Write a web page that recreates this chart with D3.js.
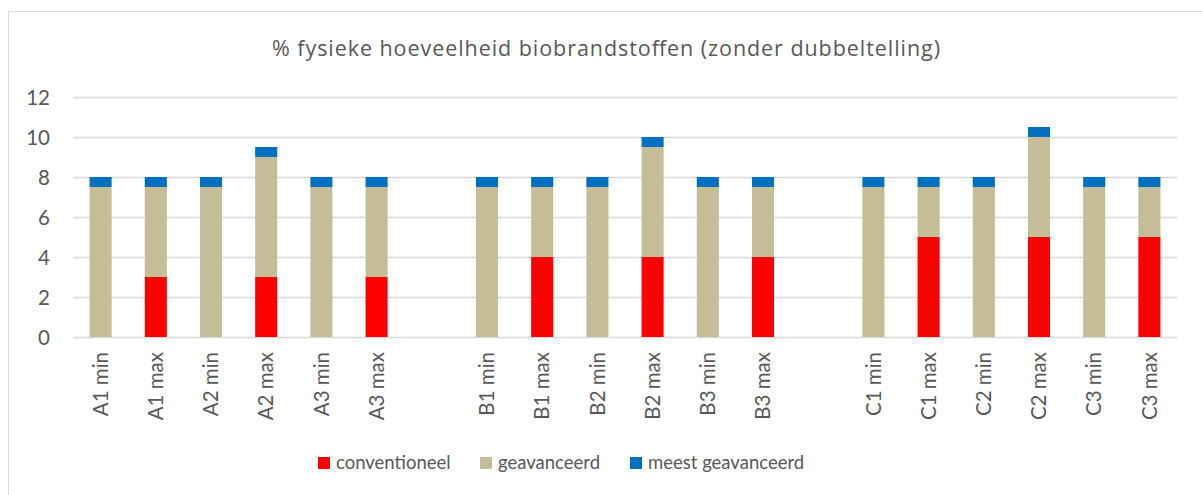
<!DOCTYPE html>
<html>
<head>
<meta charset="utf-8">
<script src="https://cdn.jsdelivr.net/npm/d3@7"></script>
<style>
  html, body { margin: 0; padding: 0; background: #fff; }
  svg { display: block; }
</style>
</head>
<body>
<svg id="chart" width="1202" height="495"></svg>
<script>
// ---- data ----
const categories = ["A1 min","A1 max","A2 min","A2 max","A3 min","A3 max","",
                    "B1 min","B1 max","B2 min","B2 max","B3 min","B3 max","",
                    "C1 min","C1 max","C2 min","C2 max","C3 min","C3 max"];
const conventioneel     = [0,3,0,3,0,3,null, 0,4,0,4,0,4,null, 0,5,0,5,0,5];
const geavanceerd       = [7.5,4.5,7.5,6,7.5,4.5,null, 7.5,3.5,7.5,5.5,7.5,3.5,null, 7.5,2.5,7.5,5,7.5,2.5];
const meestGeavanceerd  = [0.5,0.5,0.5,0.5,0.5,0.5,null, 0.5,0.5,0.5,0.5,0.5,0.5,null, 0.5,0.5,0.5,0.5,0.5,0.5];
const seriesNames = ["conventioneel","geavanceerd","meest geavanceerd"];
const seriesColors = ["#FF0000","#C4BD97","#0070C0"];
const yTicks = [0,2,4,6,8,10,12];
const title = "% fysieke hoeveelheid biobrandstoffen (zonder dubbeltelling)";

// ---- layout ----
const svg = d3.select("#chart");
const plot = {left: 73, right: 1177, top: 97, bottom: 337};
const textColor = "#595959";
const lato = "Lato, 'Open Sans', sans-serif";

svg.append("rect").attr("x", 8.5).attr("y", 11.5).attr("width", 1250).attr("height", 600)
  .attr("fill", "#fff").attr("stroke", "#D9D9D9").attr("stroke-width", 1);

svg.append("text").attr("x", 606).attr("y", 56).attr("text-anchor", "middle")
  .attr("textLength", 668).attr("lengthAdjust", "spacing")
  .style("font-family", "'Open Sans', sans-serif").style("fill", textColor)
  .style("font-size", "21.5px").text(title);

const idx = categories.map((d, i) => i);
const x = d3.scaleBand().domain(idx).range([plot.left, plot.right]).paddingInner(0.6).paddingOuter(0.3);
const y = d3.scaleLinear().domain([0, 12]).range([plot.bottom, plot.top]);

// gridlines
svg.append("g").selectAll("line").data(yTicks).join("line")
  .attr("x1", plot.left).attr("x2", plot.right)
  .attr("y1", d => Math.round(y(d)) + 0.5).attr("y2", d => Math.round(y(d)) + 0.5)
  .attr("stroke", "#D9D9D9").attr("stroke-width", 1.3);

// y axis labels
const yAxis = d3.axisLeft(y).tickValues(yTicks).tickSize(0).tickPadding(0);
const gy = svg.append("g").attr("transform", `translate(50,0)`).call(yAxis);
gy.select(".domain").remove();
gy.selectAll("text").style("font-size", "20.5px").style("fill", textColor).style("font-family", lato).attr("dy", "0.35em");

// stacked bars
const rows = idx.map(i => ({i, conventioneel: conventioneel[i], geavanceerd: geavanceerd[i], "meest geavanceerd": meestGeavanceerd[i]}))
  .filter(r => r.conventioneel !== null);
const stack = d3.stack().keys(seriesNames)(rows);
svg.append("g").selectAll("g").data(stack).join("g")
  .attr("fill", (d, k) => seriesColors[k])
  .selectAll("rect").data(d => d.filter(s => s[1] - s[0] > 0)).join("rect")
  .attr("x", d => x(d.data.i))
  .attr("width", x.bandwidth())
  .attr("y", d => y(d[1]))
  .attr("height", d => y(d[0]) - y(d[1]));

// x labels
const xAxis = d3.axisBottom(x).tickFormat(i => categories[i]).tickSize(0).tickPadding(0);
const gx = svg.append("g").attr("transform", `translate(0,${plot.bottom})`).call(xAxis);
gx.select(".domain").remove();
gx.selectAll("text")
  .style("font-size", "20.5px").style("fill", textColor).style("font-family", lato)
  .attr("text-anchor", "end")
  .attr("transform", "rotate(-90)")
  .attr("x", -15).attr("y", 0).attr("dy", "0.35em");

// legend
const legendX = [318, 480, 630];
const lg = svg.append("g").selectAll("g").data(seriesNames).join("g")
  .attr("transform", (d, k) => `translate(${legendX[k]},457)`);
lg.append("rect").attr("width", 12).attr("height", 12).attr("fill", (d, k) => seriesColors[k]);
lg.append("text").attr("x", 18).attr("y", 6).attr("dy", "0.35em")
  .style("font-size", "18.5px").style("fill", textColor).style("font-family", lato).text(d => d);
</script>
</body>
</html>
